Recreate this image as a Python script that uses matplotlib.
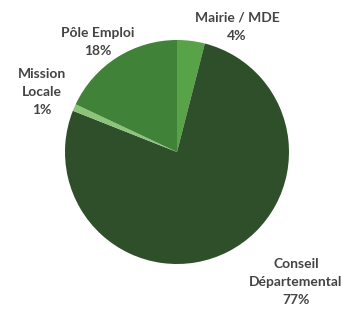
import matplotlib
matplotlib.use("Agg")
import matplotlib.pyplot as plt

labels = ["Mairie / MDE", "Conseil\nDépartemental", "Mission\nLocale", "Pôle Emploi"]
values = [4, 77, 1, 18]
colors = ["#58a247", "#2e4f2a", "#8cc47a", "#408237"]

W, H = 342, 311
fig = plt.figure(figsize=(W / 100, H / 100), dpi=100)
ax = fig.add_axes([0, 0, 1, 1])

ax.pie(values, colors=colors, startangle=90, counterclock=False,
       center=(177, H - 152), radius=112, frame=True,
       wedgeprops=dict(linewidth=0))
ax.set_xlim(0, W)
ax.set_ylim(0, H)
ax.set_aspect("equal")
ax.axis("off")

txt = dict(fontfamily="Lato", fontweight="bold", fontsize=10, color="#444444",
           ha="center", va="center", linespacing=1.6)
label_pos = [(237, 27), (296, 282), (42, 92), (98, 42)]
for lab, v, (x, y) in zip(labels, values, label_pos):
    ax.text(x, H - y, f"{lab}\n{v}%", **txt)

fig.savefig("out.png", dpi=100, facecolor="white")
